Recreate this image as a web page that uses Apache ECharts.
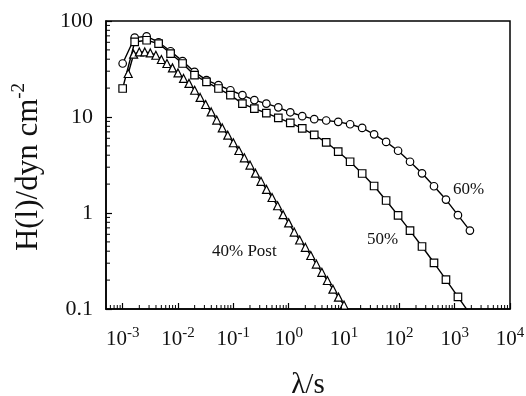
<!DOCTYPE html>
<html>
<head>
<meta charset="utf-8">
<script src="https://cdn.jsdelivr.net/npm/echarts@6/dist/echarts.min.js"></script>
<style>html,body{margin:0;padding:0;background:#fff}#c{width:526px;height:396px}</style>
</head>
<body>
<div id="c"></div>
<script>
// relaxation times (s) for the 60% and 50% curves
const lambdaA = [0.001, 0.00165, 0.00271, 0.00446, 0.00734, 0.0121, 0.0199, 0.0327, 0.0539, 0.0886,
  0.146, 0.240, 0.395, 0.650, 1.07, 1.76, 2.90, 4.77, 7.86, 12.9,
  21.3, 35.0, 57.7, 94.9, 156, 257, 423, 696, 1146, 1886];
// H(lambda) values, 60%
const h60 = [36.1, 67.2, 69.3, 60.1, 48.4, 38.2, 29.5, 24.2, 21.5, 19.0,
  16.9, 15.0, 13.8, 12.6, 11.2, 10.2, 9.5, 9.2, 8.9, 8.4,
  7.7, 6.6, 5.5, 4.45, 3.42, 2.59, 1.90, 1.38, 0.95, 0.656];
// H(lambda) values, 50%
const h50 = [19.8, 60.5, 63.0, 58.2, 45.8, 36.1, 27.3, 23.2, 19.8, 16.9,
  13.8, 12.2, 11.0, 9.8, 8.7, 7.6, 6.5, 5.45, 4.35, 3.42,
  2.58, 1.91, 1.35, 0.944, 0.655, 0.448, 0.303, 0.202, 0.134, 0.089];
// relaxation times (s) for the 40% Post curve
const lambdaB = [0.00126, 0.00158, 0.002, 0.00251, 0.00316, 0.00398, 0.00501, 0.00631, 0.00794, 0.01,
  0.0126, 0.0158, 0.02, 0.0251, 0.0316, 0.0398, 0.0501, 0.0631, 0.0794, 0.1,
  0.126, 0.158, 0.2, 0.251, 0.316, 0.398, 0.501, 0.631, 0.794, 1,
  1.26, 1.58, 2, 2.51, 3.16, 3.98, 5.01, 6.31, 7.94, 10];
const h40 = [28.4, 45.1, 47.6, 47.6, 46.5, 44.0, 39.7, 36.1, 32.5, 28.8,
  25.2, 22.4, 19.0, 16.0, 13.5, 11.3, 9.3, 7.69, 6.47, 5.39,
  4.48, 3.76, 3.16, 2.60, 2.14, 1.76, 1.45, 1.19, 0.96, 0.789,
  0.633, 0.523, 0.439, 0.361, 0.294, 0.241, 0.198, 0.161, 0.133, 0.110];
const seriesNames = ['60%', '50%', '40% Post'];
// axis ranges and minor tick values
const xMin = 0.0005, xMax = 10000, yMin = 0.1, yMax = 100;
const xMinor = [];
for (let e = -4; e <= 3; e++) for (let m = 2; m <= 9; m++) { const v = m * Math.pow(10, e); if (v > xMin && v < xMax) xMinor.push(Number(v.toPrecision(3))); }
const yMinor = [];
for (let e = -1; e <= 1; e++) for (let m = 2; m <= 9; m++) { const v = m * Math.pow(10, e); if (v > yMin && v < yMax) yMinor.push(Number(v.toPrecision(3))); }

const FONT = '"Liberation Serif", "DejaVu Serif", serif';
const zip = (xs, ys) => xs.map((x, i) => [x, ys[i]]);
const chart = echarts.init(document.getElementById('c'), null, {renderer: 'canvas'});

function lineSeries(name, xs, ys, symbol, size) {
  return {
    name, type: 'line', data: zip(xs, ys), symbol, symbolSize: size,
    showAllSymbol: true, clip: true,
    lineStyle: {color: '#000', width: 1.4},
    itemStyle: {color: '#fff', borderColor: '#000', borderWidth: 1.2},
    emphasis: {disabled: true}, z: 3
  };
}

chart.setOption({
  animation: false,
  backgroundColor: '#fff',
  grid: {left: 106, top: 21, width: 404, height: 288, outerBoundsMode: 'none', containLabel: false,
    show: true, borderColor: '#000', borderWidth: 1.5, backgroundColor: 'transparent'},
  xAxis: {
    type: 'log', logBase: 10, min: xMin, max: xMax, splitNumber: 7,
    name: 'λ/s', nameLocation: 'middle', nameGap: 62,
    nameTextStyle: {fontFamily: FONT, fontSize: 29, color: '#111'},
    axisLine: {show: true, lineStyle: {color: '#000', width: 1.5}},
    axisTick: {show: true, inside: true, length: 6, lineStyle: {color: '#000', width: 1.2}},
    splitLine: {show: false},
    axisLabel: {
      margin: 17, showMinLabel: false,
      formatter: function (v) {
        const e = Math.log10(v);
        if (Math.abs(e - Math.round(e)) > 1e-6) return '';
        return '{b|10}{s|' + Math.round(e) + '}';
      },
      rich: {
        b: {fontFamily: FONT, fontSize: 21, color: '#111', lineHeight: 24, verticalAlign: 'bottom'},
        s: {fontFamily: FONT, fontSize: 15, color: '#111', lineHeight: 24, verticalAlign: 'top'}
      }
    }
  },
  yAxis: {
    type: 'log', logBase: 10, min: yMin, max: yMax, splitNumber: 3,
    axisLine: {show: true, lineStyle: {color: '#000', width: 1.5}},
    axisTick: {show: true, inside: true, length: 6, lineStyle: {color: '#000', width: 1.2}},
    splitLine: {show: false},
    axisLabel: {
      margin: 13, fontFamily: FONT, fontSize: 22, color: '#111',
      formatter: function (v) { return String(Number(v.toPrecision(3))); }
    }
  },
  graphic: [
    {type: 'text', x: 27, y: 167, rotation: Math.PI / 2,
      style: {text: '{a|H(l)/dyn cm}{s|-2}', align: 'center', verticalAlign: 'middle',
        rich: {
          a: {fontFamily: FONT, fontSize: 31, fill: '#111', lineHeight: 34, verticalAlign: 'bottom'},
          s: {fontFamily: FONT, fontSize: 19, fill: '#111', lineHeight: 34, verticalAlign: 'top'}
        }}},
    {type: 'text', left: 453, top: 181, style: {text: '60%', font: '17px ' + FONT, fill: '#111'}},
    {type: 'text', left: 367, top: 231, style: {text: '50%', font: '17px ' + FONT, fill: '#111'}},
    {type: 'text', left: 212, top: 243, style: {text: '40% Post', font: '17px ' + FONT, fill: '#111'}}
  ],
  series: [
    lineSeries(seriesNames[0], lambdaA, h60, 'circle', 7.5),
    lineSeries(seriesNames[1], lambdaA, h50, 'rect', 7.5),
    lineSeries(seriesNames[2], lambdaB, h40, 'triangle', 8),
    {
      type: 'custom', silent: true, clip: false, z: 5,
      data: xMinor.map(v => [v, yMin]),
      renderItem: function (params, api) {
        const p = api.coord([api.value(0), api.value(1)]);
        return {type: 'line', shape: {x1: p[0], y1: p[1], x2: p[0], y2: p[1] - 4}, style: {stroke: '#000', lineWidth: 1}};
      }
    },
    {
      type: 'custom', silent: true, clip: false, z: 5,
      data: yMinor.map(v => [xMin, v]),
      renderItem: function (params, api) {
        const p = api.coord([api.value(0), api.value(1)]);
        return {type: 'line', shape: {x1: p[0], y1: p[1], x2: p[0] + 4, y2: p[1]}, style: {stroke: '#000', lineWidth: 1}};
      }
    }
  ]
});
</script>
</body>
</html>
